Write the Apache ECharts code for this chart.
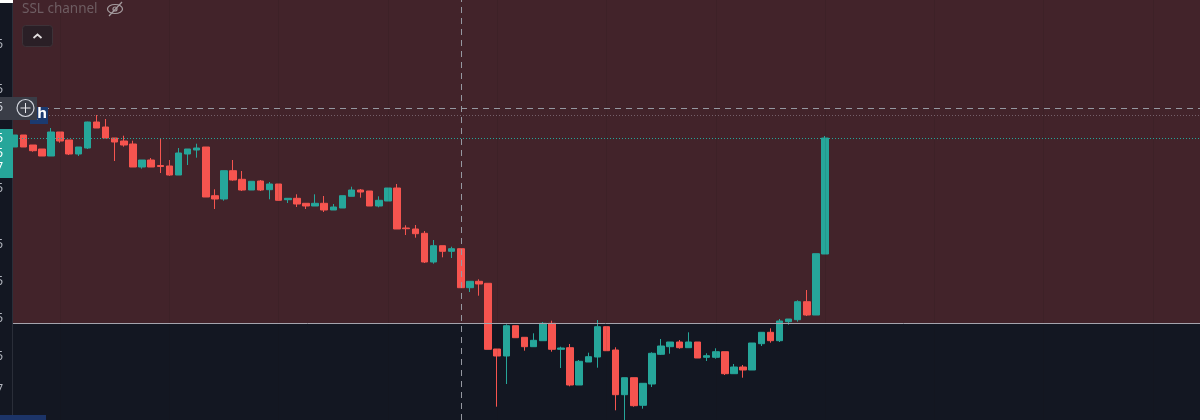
<!DOCTYPE html>
<html>
<head>
<meta charset="utf-8">
<style>
html, body { margin: 0; padding: 0; background: #131722; }
#box1 { width: 1200px; height: 420px; }
</style>
<script src="https://cdn.jsdelivr.net/npm/echarts@6/dist/echarts.min.js"></script>
</head>
<body>
<div id="box1"></div>
<script>
// no price is readable in the shot, values are on a plain scale 0-420
const opens = [273,285,275,271,264,288,280,266,272,298,293,282,279,276,253,260,254.5,254,245,266,270,273,224.3,221,249.3,240.7,230,239,230.3,236,220.3,221.7,216.7,214,216.7,210,212,223.7,230,229,214,219,232,192,191,186.7,158,174.3,168.7,171.3,132.3,138.7,136.7,71,64,94.3,82.7,73.3,79.3,96.7,70.7,72.3,35,58,63,93.3,70,25.3,42.3,14.7,36,65.7,73.3,78,72.3,78,62.7,62.7,68.3,46.3,53,50,76.3,87.7,79.3,98.3,100.3,118.3,105,166];
const closes = [285,273,269.3,264,288,279,266,273,298,292,282,278,275,253,260,253,253.5,245,267,271,272,223,221,249.3,240,230,238.7,230,236,219.7,221.7,216,214,216.7,210,213,224.3,230,228,214,219.7,232,191,191.3,186.3,158,174.3,168.7,171.3,132.3,138.7,136,70.7,64,94.3,82.3,73.3,79.7,96.7,70.7,72,35,58.7,63.3,93.3,69.3,25.3,42.3,14.3,36.7,66.7,74,78,72.3,78,62,64.3,68.3,46.3,53,50,77,87.7,79.3,99,101,118.3,105,166.3,282];
const lows = [273,273,268.3,264,264,277.3,265,264,271,292,282,259,273.3,253,251.3,253,247,244,245,255,262.3,223,211,219.3,239.3,229,230,229,220.7,219,217,213,211,214,208,210,212,223.7,222.3,214,212.7,219,191,185,182.3,157,156.3,162.7,162,132.3,128,124.3,70.7,13.3,36,82.3,69.3,73.3,79.3,68.3,52,33.7,35,58,52.3,69.3,9.7,0,13.3,11.3,33,65,66.3,71.3,72.3,62,59,61.3,45,46.3,42.3,50,74,77.3,78,95.3,98.3,104,105,166];
const highs = [285,285,275,271,292,288,280,273,298.3,305,301,282,284.3,279.3,260,262,281,260,272,271,276.3,273,230.7,249.3,260,249,238.7,240,238,236,221.7,225.7,216.7,225.7,224,216,224.3,233.3,231,229,223.7,232,236,194.7,195,189,180,174.3,173.3,171.3,138.7,140.7,136.7,71,95.7,94.3,82.7,86.7,98,99.3,73.3,76,60,67.3,100,93.3,72.7,42.3,42.3,36.7,67.7,81,78,80,87.7,78,66.7,71.7,68.3,56,55,77,87.7,91.7,101,101,119.7,130,166.3,284];
const categories = Array.from({length: 131}, (cur, idx) => `bar ${idx + 1}`);

const channelTop = 97; // white line, red fill above it
const crossPrice = 311.5;
const dottedPrices = [304.5];
const lastPrice = 281.5;
const crossBar = 49;
const gridBars = [5, 17, 29, 41, 53, 65, 77, 89, 101, 113, 125];
const tickValues = [375, 330, 231, 175, 138, 101, 63, 30];
const tickLabels = ['5', '5', '5', '5', '5', '5', '5', '7'];
const tagLabels = ['5', '5', '7'];

const aMarkLines = [
    ...gridBars.map(cur => ({xAxis: cur, lineStyle: {color: 'rgba(20,16,24,0.1)', type: 'solid', width: 1}})),
    {yAxis: channelTop, lineStyle: {color: '#a5a4ad', type: 'solid', width: 1}},
    {yAxis: crossPrice, lineStyle: {color: '#9598a1', type: [6, 5], width: 1}},
    ...dottedPrices.map(cur => ({yAxis: cur, lineStyle: {color: '#75606a', type: [1, 2], width: 1}})),
    {yAxis: lastPrice, lineStyle: {color: '#26a69a', type: [1, 2], width: 1}},
    {xAxis: crossBar, lineStyle: {color: '#9598a1', type: [6, 5], width: 1}},
];

const aOverlay = [
    {type: 'rect', z: 20, shape: {x: 0, y: 0, width: 13, height: 420}, style: {fill: '#131722'}},
    {type: 'rect', z: 21, shape: {x: 12, y: 0, width: 1, height: 420}, style: {fill: '#2a2e39'}},
    {type: 'rect', z: 22, shape: {x: 0, y: 0, width: 13, height: 3}, style: {fill: '#ffffff'}},
    {type: 'rect', z: 22, shape: {x: 0, y: 415, width: 46, height: 5}, style: {fill: '#1c3468'}},
    // teal price tag
    {type: 'rect', z: 22, shape: {x: 0, y: 129, width: 13, height: 49}, style: {fill: '#26a69a'}},
    ...tagLabels.map((cur, idx) => ({
        type: 'text', z: 23, x: 3, y: 139 + idx * 14.5,
        style: {text: cur, fill: '#ffffff', font: '12px "Noto Sans"', textAlign: 'right', textVerticalAlign: 'middle'},
    })),
    // series title and its controls
    {type: 'text', z: 23, x: 22, y: 9, style: {text: 'SSL channel', fill: '#6e5d62', font: '13.5px "Noto Sans"', textVerticalAlign: 'middle'}},
    {type: 'ellipse', z: 23, shape: {cx: 115, cy: 9, rx: 7.5, ry: 4.5}, style: {fill: 'none', stroke: '#a59c9f', lineWidth: 1.2}},
    {type: 'circle', z: 23, shape: {cx: 115, cy: 9, r: 2}, style: {fill: 'none', stroke: '#a59c9f', lineWidth: 1.2}},
    {type: 'line', z: 23, shape: {x1: 109, y1: 16, x2: 122, y2: 2}, style: {stroke: '#a59c9f', lineWidth: 1.2}},
    {type: 'rect', z: 23, shape: {x: 22.5, y: 25.5, width: 30, height: 21, r: 3}, style: {fill: '#2a1f26', stroke: '#3d3238', lineWidth: 1}},
    {type: 'polyline', z: 24, shape: {points: [[33.5, 38], [37.5, 34.5], [41.5, 38]]}, style: {fill: 'none', stroke: '#e0dcdd', lineWidth: 1.8}},
    // crosshair hover: blue tag, grey box, plus
    {type: 'rect', z: 24, shape: {x: 30, y: 107, width: 18, height: 17}, style: {fill: '#1b3a70'}},
    {type: 'text', z: 25, x: 31, y: 114, style: {text: '_h', fill: '#ffffff', font: 'bold 15px "Noto Sans"', textVerticalAlign: 'middle'}},
    {type: 'rect', z: 26, shape: {x: 0, y: 97, width: 37, height: 23}, style: {fill: '#3a3d47'}},
    {type: 'text', z: 27, x: 3, y: 108, style: {text: '5', fill: '#d1d4dc', font: '12px "Noto Sans"', textAlign: 'right', textVerticalAlign: 'middle'}},
    {type: 'circle', z: 27, shape: {cx: 25.5, cy: 108, r: 8.5}, style: {fill: 'none', stroke: '#d1d4dc', lineWidth: 1.2}},
    {type: 'line', z: 27, shape: {x1: 20.5, y1: 108, x2: 30.5, y2: 108}, style: {stroke: '#e8e8ec', lineWidth: 1}},
    {type: 'line', z: 27, shape: {x1: 25.5, y1: 103, x2: 25.5, y2: 113}, style: {stroke: '#e8e8ec', lineWidth: 1}},
];

const option = {
    animation: false,
    backgroundColor: '#131722',
    grid: {left: 10, top: 0, width: 1193, height: 420, outerBoundsMode: 'none'},
    xAxis: {
        type: 'category',
        data: categories,
        axisLine: {show: false},
        axisTick: {show: false},
        axisLabel: {show: false},
        splitLine: {show: false},
    },
    yAxis: {
        type: 'value',
        min: 0,
        max: 420,
        z: 30,
        splitLine: {show: false},
        axisLine: {show: false},
        axisTick: {show: false},
        axisLabel: {
            customValues: tickValues,
            margin: 7,
            color: '#b2b5be',
            fontSize: 12,
            fontFamily: 'Noto Sans',
            formatter: val => tickLabels[tickValues.indexOf(val)],
        },
    },
    series: [{
        type: 'candlestick',
        barWidth: 7,
        data: opens.map((cur, idx) => [cur, closes[idx], lows[idx], highs[idx]]),
        itemStyle: {
            color: '#26a69a',
            color0: '#f6544f',
            borderColor: '#26a69a',
            borderColor0: '#f6544f',
            borderWidth: 1,
        },
        markArea: {
            silent: true,
            itemStyle: {color: '#42232a'},
            data: [[{yAxis: channelTop}, {yAxis: 420}]],
        },
        markLine: {
            silent: true,
            symbol: 'none',
            label: {show: false},
            data: aMarkLines,
        },
    }],
    graphic: {elements: aOverlay},
};

const myChart = echarts.init(document.getElementById('box1'));
myChart.setOption(option);
</script>
</body>
</html>
